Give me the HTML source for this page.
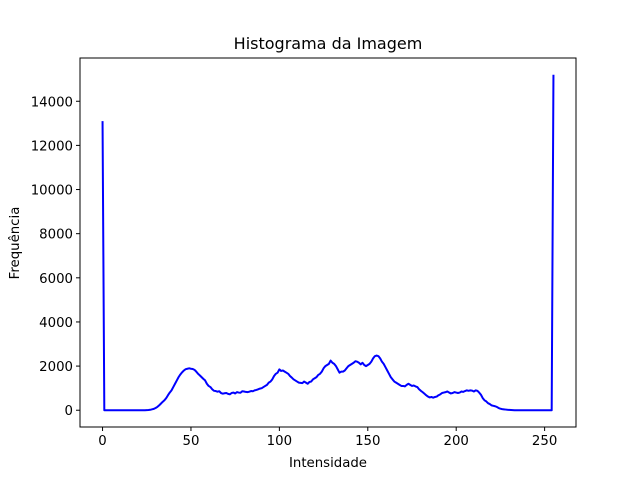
<!DOCTYPE html>
<html><head><meta charset="utf-8"><style>
body{margin:0;background:#fff}
svg{display:block;font-family:"DejaVu Sans","Liberation Sans",sans-serif}
</style></head><body>
<svg id="chart" width="640" height="480">
<rect width="640" height="480" fill="#fff"/>
<text x="328" y="49" text-anchor="middle" font-size="16">Histograma da Imagem</text>
<text x="328" y="467" text-anchor="middle" font-size="13.3">Intensidade</text>
<text transform="translate(19,243) rotate(-90)" text-anchor="middle" font-size="13.3">Frequência</text>
<g id="ticks"></g>
<path id="line" fill="none" stroke="#0000ff" stroke-width="2" stroke-linejoin="round"/>
<rect x="80" y="58" width="496" height="369" fill="none" stroke="#000" stroke-width="1"/>
</svg>
<script>
const xTicks=[0,50,100,150,200,250];
const yTicks=[0,2000,4000,6000,8000,10000,12000,14000];
const counts=[13100,
0,0,0,0,0,0,0,0,0,0,0,0,0,0,0,0,0,0,0,0,0,0,0,0,
5,10,20,40,60,100,150,220,300,380,450,550,680,800,900,1050,1200,1350,1500,1620,1720,1800,1860,1880,1900,1880,1870,1830,1750,1650,1580,1500,1420,1350,1200,1100,1050,950,880,870,840,860,780,750,770,780,740,720,780,800,760,820,800,790,860,850,830,820,840,870,860,900,920,950,980,1000,1050,1100,1150,1250,1300,1400,1550,1650,1700,1850,1780,1800,1750,1700,1650,1550,1480,1400,1350,1300,1250,1240,1230,1300,1250,1200,1280,1300,1400,1450,1500,1600,1650,1750,1900,2000,2050,2100,2250,2150,2100,2000,1850,1700,1750,1750,1800,1900,2000,2050,2100,2150,2220,2200,2150,2080,2150,2050,2000,2050,2100,2200,2350,2450,2480,2450,2350,2200,2100,1950,1800,1650,1500,1400,1300,1250,1200,1150,1100,1100,1080,1150,1200,1150,1100,1120,1080,1050,950,880,820,750,680,620,580,600,570,600,620,680,720,780,800,820,850,800,760,780,820,800,780,800,850,830,870,900,880,900,890,850,900,880,800,700,550,450,400,320,280,220,200,180,150,100,70,50,40,30,20,15,10,5,
0,0,0,0,0,0,0,0,0,0,0,0,0,0,0,0,0,0,0,0,0,0,
15200];
const L=80,R=576,T=58,B=427;
const xmin=-12.75,xmax=267.75,ymin=-760,ymax=15960;
const sx=v=>L+(v-xmin)/(xmax-xmin)*(R-L);
const sy=v=>B-(v-ymin)/(ymax-ymin)*(B-T);
const NS="http://www.w3.org/2000/svg";
const g=document.getElementById('ticks');
xTicks.forEach(t=>{
 const l=document.createElementNS(NS,'line');
 l.setAttribute('x1',sx(t));l.setAttribute('x2',sx(t));l.setAttribute('y1',B);l.setAttribute('y2',B+4);l.setAttribute('stroke','#000');
 
 
 g.appendChild(l);
 const tx=document.createElementNS(NS,'text');
 tx.setAttribute('x',sx(t));tx.setAttribute('y',B+18);tx.setAttribute('text-anchor','middle');tx.setAttribute('font-size','13.3');
 tx.textContent=t;
 
 
 g.appendChild(tx);
});
yTicks.forEach(t=>{
 const l=document.createElementNS(NS,'line');
 l.setAttribute('x1',L-4);l.setAttribute('x2',L);l.setAttribute('y1',sy(t));l.setAttribute('y2',sy(t));l.setAttribute('stroke','#000');
 
 
 g.appendChild(l);
 const tx=document.createElementNS(NS,'text');
 tx.setAttribute('x',L-7);tx.setAttribute('y',sy(t)+5);tx.setAttribute('text-anchor','end');tx.setAttribute('font-size','13.3');
 tx.textContent=t;
 
 
 g.appendChild(tx);
});
document.getElementById('line').setAttribute('d',counts.map((c,i)=>(i?'L':'M')+sx(i).toFixed(2)+','+sy(c).toFixed(2)).join(''));
</script>
</body></html>
